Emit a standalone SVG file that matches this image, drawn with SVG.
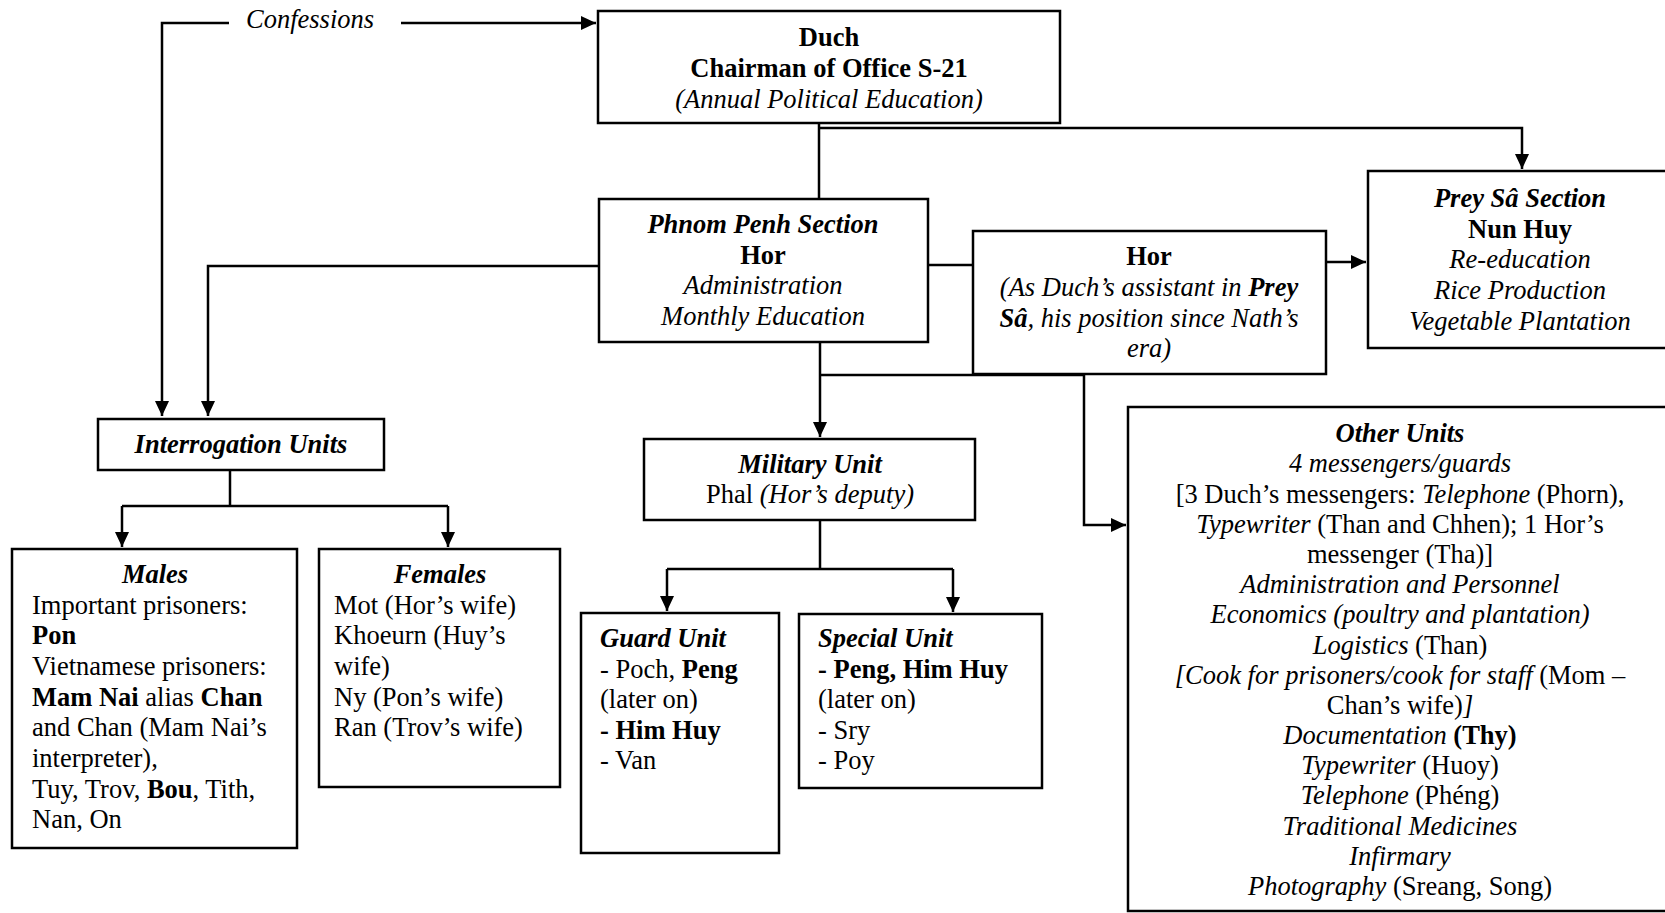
<svg xmlns="http://www.w3.org/2000/svg" width="1665" height="913" viewBox="0 0 1665 913">
<style>
text{font-family:"Liberation Serif","Times New Roman",serif;font-size:26.5px;fill:#000}
.c{text-anchor:middle}
.b{font-weight:bold}
.i{font-style:italic}
.bi{font-weight:bold;font-style:italic}
.box{fill:#fff;stroke:#000;stroke-width:2.5}
.ln{fill:none;stroke:#000;stroke-width:2.5}
</style>
<defs>
<marker id="ah" markerUnits="userSpaceOnUse" markerWidth="16" markerHeight="16" viewBox="0 0 16 16" refX="15" refY="8" orient="auto">
<path d="M0,1 L15,8 L0,15 Z" fill="#000"/>
</marker>
</defs>
<rect width="1665" height="913" fill="#fff"/>

<g id="connectors">
<path class="ln" d="M229,23 H162 V416" marker-end="url(#ah)"/>
<path class="ln" d="M401,23 H596" marker-end="url(#ah)"/>
<path class="ln" d="M819,123 V199"/>
<path class="ln" d="M819,128 H1522 V169" marker-end="url(#ah)"/>
<path class="ln" d="M599,266 H208 V416" marker-end="url(#ah)"/>
<path class="ln" d="M928,265 H973"/>
<path class="ln" d="M1326,262 H1366" marker-end="url(#ah)"/>
<path class="ln" d="M820,342 V437" marker-end="url(#ah)"/>
<path class="ln" d="M820,375 H1084 V525 H1126" marker-end="url(#ah)"/>
<path class="ln" d="M230,470 V506"/>
<path class="ln" d="M122,506 H448"/>
<path class="ln" d="M122,506 V547" marker-end="url(#ah)"/>
<path class="ln" d="M448,506 V547" marker-end="url(#ah)"/>
<path class="ln" d="M820,520 V569"/>
<path class="ln" d="M667,569 H953"/>
<path class="ln" d="M667,569 V611" marker-end="url(#ah)"/>
<path class="ln" d="M953,569 V612" marker-end="url(#ah)"/>
</g>

<text class="i" x="246" y="28">Confessions</text>

<g id="duch">
<rect class="box" x="598" y="11" width="462" height="112"/>
<text class="c b" x="829" y="46">Duch</text>
<text class="c b" x="829" y="77">Chairman of Office S-21</text>
<text class="c i" x="829" y="108">(Annual Political Education)</text>
</g>

<g id="phnom-penh">
<rect class="box" x="599" y="199" width="329" height="143"/>
<text class="c bi" x="763" y="233">Phnom Penh Section</text>
<text class="c b" x="763" y="264">Hor</text>
<text class="c i" x="763" y="294">Administration</text>
<text class="c i" x="763" y="325">Monthly Education</text>
</g>

<g id="hor">
<rect class="box" x="973" y="231" width="353" height="143"/>
<text class="c b" x="1149" y="265">Hor</text>
<text class="c" x="1149" y="296"><tspan class="i">(As Duch’s assistant in </tspan><tspan class="bi">Prey</tspan></text>
<text class="c" x="1149" y="327"><tspan class="bi">Sâ</tspan><tspan class="i">, his position since Nath’s</tspan></text>
<text class="c i" x="1149" y="357">era)</text>
</g>

<g id="prey-sa">
<rect class="box" x="1368" y="171" width="310" height="177"/>
<text class="c bi" x="1520" y="207">Prey Sâ Section</text>
<text class="c b" x="1520" y="238">Nun Huy</text>
<text class="c i" x="1520" y="268">Re-education</text>
<text class="c i" x="1520" y="299">Rice Production</text>
<text class="c i" x="1520" y="330">Vegetable Plantation</text>
</g>

<g id="interrogation">
<rect class="box" x="98" y="419" width="286" height="51"/>
<text class="c bi" x="241" y="453">Interrogation Units</text>
</g>

<g id="males">
<rect class="box" x="12" y="549" width="285" height="299"/>
<text class="c bi" x="155" y="583">Males</text>
<text x="32" y="614">Important prisoners:</text>
<text class="b" x="32" y="644">Pon</text>
<text x="32" y="675">Vietnamese prisoners:</text>
<text x="32" y="706"><tspan class="b">Mam Nai</tspan> alias <tspan class="b">Chan</tspan></text>
<text x="32" y="736">and Chan (Mam Nai’s</text>
<text x="32" y="767">interpreter),</text>
<text x="32" y="798">Tuy, Trov, <tspan class="b">Bou</tspan>, Tith,</text>
<text x="32" y="828">Nan, On</text>
</g>

<g id="females">
<rect class="box" x="319" y="549" width="241" height="238"/>
<text class="c bi" x="440" y="583">Females</text>
<text x="334" y="614">Mot (Hor’s wife)</text>
<text x="334" y="644">Khoeurn (Huy’s</text>
<text x="334" y="675">wife)</text>
<text x="334" y="706">Ny (Pon’s wife)</text>
<text x="334" y="736">Ran (Trov’s wife)</text>
</g>

<g id="military">
<rect class="box" x="644" y="439" width="331" height="81"/>
<text class="c bi" x="810" y="473">Military Unit</text>
<text class="c" x="810" y="503">Phal <tspan class="i">(Hor’s deputy)</tspan></text>
</g>

<g id="guard">
<rect class="box" x="581" y="613" width="198" height="240"/>
<text class="bi" x="600" y="647">Guard Unit</text>
<text x="600" y="678">- Poch, <tspan class="b">Peng</tspan></text>
<text x="600" y="708">(later on)</text>
<text class="b" x="600" y="739">- Him Huy</text>
<text x="600" y="769">- Van</text>
</g>

<g id="special">
<rect class="box" x="799" y="614" width="243" height="174"/>
<text class="bi" x="818" y="647">Special Unit</text>
<text class="b" x="818" y="678">- Peng, Him Huy</text>
<text x="818" y="708">(later on)</text>
<text x="818" y="739">- Sry</text>
<text x="818" y="769">- Poy</text>
</g>

<g id="other-units">
<rect class="box" x="1128" y="407" width="550" height="504"/>
<text class="c bi" x="1400" y="442">Other Units</text>
<text class="c i" x="1400" y="472">4 messengers/guards</text>
<text class="c" x="1400" y="503">[3 Duch’s messengers: <tspan class="i">Telephone</tspan> (Phorn),</text>
<text class="c" x="1400" y="533"><tspan class="i">Typewriter</tspan> (Than and Chhen); 1 Hor’s</text>
<text class="c" x="1400" y="563">messenger (Tha)]</text>
<text class="c i" x="1400" y="593">Administration and Personnel</text>
<text class="c i" x="1400" y="623">Economics (poultry and plantation)</text>
<text class="c" x="1400" y="654"><tspan class="i">Logistics</tspan> (Than)</text>
<text class="c" x="1400" y="684"><tspan class="i">[Cook for prisoners/cook for staff</tspan> (Mom –</text>
<text class="c" x="1400" y="714">Chan’s wife)<tspan class="i">]</tspan></text>
<text class="c" x="1400" y="744"><tspan class="i">Documentation</tspan> <tspan class="b">(Thy)</tspan></text>
<text class="c" x="1400" y="774"><tspan class="i">Typewriter</tspan> (Huoy)</text>
<text class="c" x="1400" y="804"><tspan class="i">Telephone</tspan> (Phéng)</text>
<text class="c i" x="1400" y="835">Traditional Medicines</text>
<text class="c i" x="1400" y="865">Infirmary</text>
<text class="c" x="1400" y="895"><tspan class="i">Photography</tspan> (Sreang, Song)</text>
</g>
</svg>
